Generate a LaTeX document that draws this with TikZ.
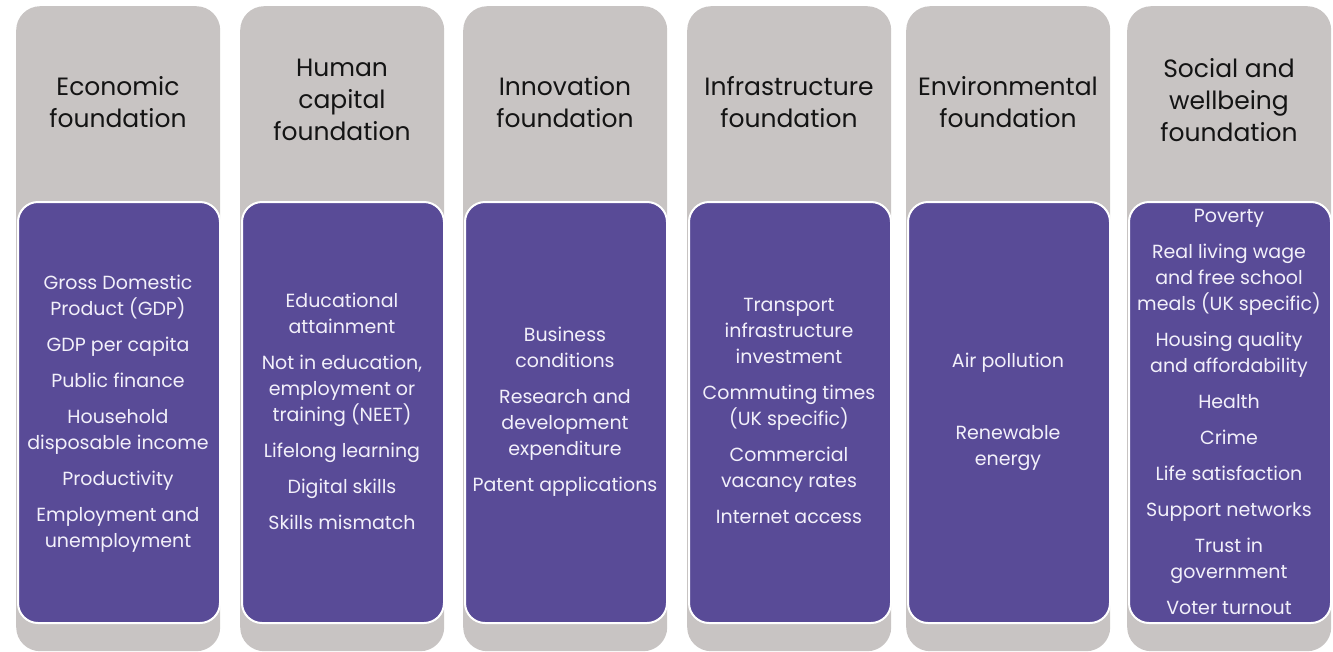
\documentclass[tikz,border=0pt]{standalone}
\usepackage{fontspec}
\setmainfont{Poppins}
\definecolor{grayc}{RGB}{200,196,195}
\definecolor{purp}{RGB}{89,75,151}
\definecolor{txtw}{RGB}{242,240,250}
\definecolor{txtk}{RGB}{20,20,20}
\tikzset{
  colbox/.style={fill=grayc, rounded corners=24pt, minimum width=204pt, minimum height=645pt, anchor=north west, inner sep=0pt},
  bodybox/.style={fill=purp, draw=white, line width=2pt, rounded corners=20pt, minimum width=202pt, minimum height=421pt, anchor=north west, inner sep=0pt},
  head/.style={font=\fontsize{25}{32}\selectfont, align=center, text=txtk},
  items/.style={font=\fontsize{19}{26}\selectfont, align=center, text=txtw}
}
\begin{document}
\begin{tikzpicture}[x=1pt,y=-1pt]
\useasboundingbox (0,0) rectangle (1333,651);
% gray columns
\node[colbox] (c1) at (16,6) {};
\node[colbox] (c2) at (240,6) {};
\node[colbox] (c3) at (463,6) {};
\node[colbox] (c4) at (687,6) {};
\node[colbox] (c5) at (906,6) {};
\node[colbox] (c6) at (1127,6) {};
% purple boxes
\node[bodybox] (b1) at (17,201) {};
\node[bodybox] (b2) at (241,201) {};
\node[bodybox] (b3) at (464,201) {};
\node[bodybox] (b4) at (688,201) {};
\node[bodybox] (b5) at (907,201) {};
\node[bodybox] (b6) at (1128,201) {};
% headers
\node[head] (h1) at (118,102) {Economic\\foundation};
\node[head] (h2) at (342,100) {Human\\capital\\foundation};
\node[head] (h3) at (565,102) {Innovation\\foundation};
\node[head] (h4) at (789,102) {Infrastructure\\foundation};
\node[head] (h5) at (1008,102) {Environmental\\foundation};
\node[head] (h6) at (1229,100) {Social and\\wellbeing\\foundation};
% items
\node[items] (t1) at (118,414) {Gross Domestic\\Product (GDP)\\[10pt]GDP per capita\\[10pt]Public finance\\[10pt]Household\\disposable income\\[10pt]Productivity\\[10pt]Employment and\\unemployment};
\node[items] (t2) at (342,411) {Educational\\attainment\\[10pt]Not in education,\\employment or\\training (NEET)\\[10pt]Lifelong learning\\[10pt]Digital skills\\[10pt]Skills mismatch};
\node[items] (t3) at (565,412) {Business\\conditions\\[10pt]Research and\\development\\expenditure\\[10pt]Patent applications};
\node[items] (t4) at (789,411) {Transport\\infrastructure\\investment\\[10pt]Commuting times\\(UK specific)\\[10pt]Commercial\\vacancy rates\\[10pt]Internet access};
\node[items] (t5) at (1008,412) {Air pollution\\[46pt]Renewable\\energy};
\node[items] (t6) at (1229,412) {Poverty\\[10pt]Real living wage\\and free school\\meals (UK specific)\\[10pt]Housing quality\\and affordability\\[10pt]Health\\[10pt]Crime\\[10pt]Life satisfaction\\[10pt]Support networks\\[10pt]Trust in\\government\\[10pt]Voter turnout};
\end{tikzpicture}
\end{document}
